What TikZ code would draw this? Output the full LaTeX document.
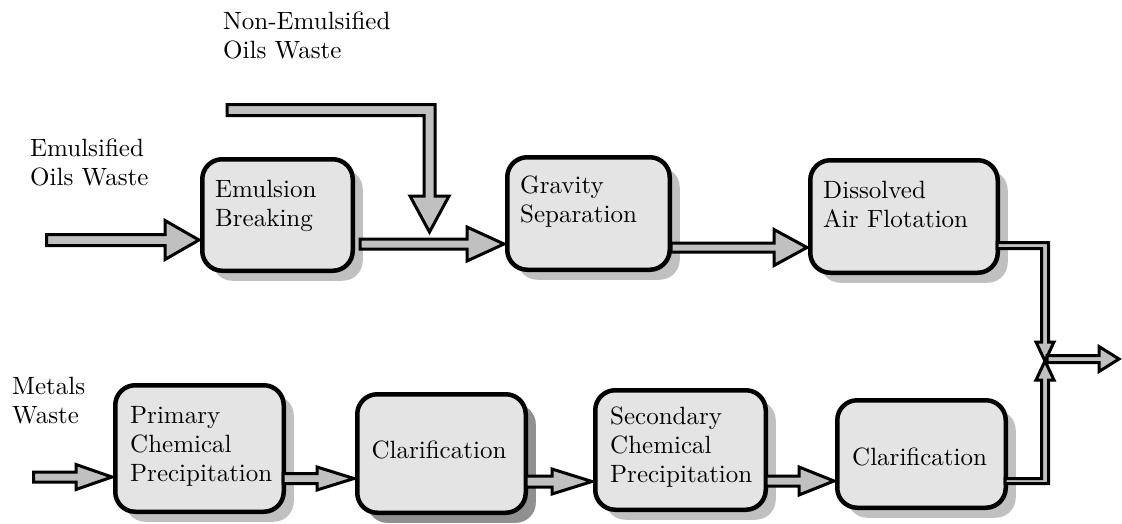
\documentclass[tikz,border=0pt]{standalone}
\usepackage{fontspec}
\setmainfont{lmroman10-regular.otf}
\usetikzlibrary{shadows,calc}
\definecolor{boxfill}{HTML}{E4E4E4}
\definecolor{shadowgray}{HTML}{C0C0C0}
\definecolor{darkshadow}{HTML}{909090}
\definecolor{arrowfill}{HTML}{C0C0C0}
\tikzset{
  procbox/.style={draw, line width=4.5pt, rounded corners=20pt, fill=boxfill,
    inner sep=0pt, drop shadow={shadow xshift=10pt, shadow yshift=-10pt, fill=shadowgray, opacity=1}},
  darkbox/.style={procbox, drop shadow={shadow xshift=10pt, shadow yshift=-10pt, fill=darkshadow, opacity=1}},
  txt/.style={font=\fontsize{25pt}{29pt}\selectfont, inner sep=0pt, align=left, anchor=base west},
  blockarrow/.style={draw, line width=3pt, fill=arrowfill, line join=miter},
  pipe/.style={draw, line width=3pt, fill=arrowfill, line join=miter}
}
% horizontal block arrow: #1 start, #2 tip (x only), #3 shaft half, #4 head half, #5 head length
\newcommand{\harr}[5]{%
  \draw[blockarrow] let \p1=(#1), \p2=(#2) in
    (\x1,\y1+#3pt) -- (\x2-#5pt,\y1+#3pt) -- (\x2-#5pt,\y1+#4pt) -- (\x2,\y1)
    -- (\x2-#5pt,\y1-#4pt) -- (\x2-#5pt,\y1-#3pt) -- (\x1,\y1-#3pt) -- cycle;}
\begin{document}
\begin{tikzpicture}[x=1pt,y=-1pt]
\useasboundingbox (0,0) rectangle (1122,523);

% process boxes
\node[procbox, minimum width=150.5pt, minimum height=111.5pt] (eb)  at (277.5,215) {};
\node[procbox, minimum width=162.5pt, minimum height=112.5pt] (gs)  at (588.5,213.5) {};
\node[procbox, minimum width=187.5pt, minimum height=112.5pt] (daf) at (904,216.5) {};
\node[procbox, minimum width=168.5pt, minimum height=126.5pt] (pcp) at (199.5,448.5) {};
\node[darkbox, minimum width=168.5pt, minimum height=118.5pt] (c1)  at (441.5,453.5) {};
\node[procbox, minimum width=170.5pt, minimum height=119.5pt] (scp) at (680.5,450) {};
\node[procbox, minimum width=168.5pt, minimum height=107.5pt] (c2)  at (921.5,454) {};

% box texts (anchor = baseline of the last line)
\node[txt] (eb-t)  at (215,226) {Emulsion\\Breaking};
\node[txt] (gs-t)  at (520,222) {Gravity\\Separation};
\node[txt] (daf-t) at (823,227) {Dissolved\\Air Flotation};
\node[txt] (pcp-t) at (130,481) {Primary\\Chemical\\Precipitation};
\node[txt, anchor=base] (c1-t) at (439,458) {Clarification};
\node[txt] (scp-t) at (610,482) {Secondary\\Chemical\\Precipitation};
\node[txt] (c2-t)  at (852,465) {Clarification};

% input labels
\node[txt] (lbl-em)  at (30,185) {Emulsified\\Oils Waste};
\node[txt] (lbl-ne)  at (223,58) {Non-Emulsified\\Oils Waste};
\node[txt] (lbl-met) at (12,423) {Metals\\Waste};

% free ends
\coordinate (em-in) at (46.5,240);
\coordinate (met-in) at (33.5,477);
\coordinate (ne-s) at (227,110);
\coordinate (ne-e) at (429.5,232);
\coordinate (j) at (1045,361);
\coordinate (out) at (1119,359);

% top row arrows
\harr{em-in}{[xshift=-1pt]eb.west}{5.5}{19.5}{34}
\harr{[xshift=5pt,yshift=-29pt]eb.east}{[xshift=-1pt]gs.west}{5}{17}{37}
\harr{[xshift=-1pt,yshift=-34pt]gs.east}{[xshift=-1pt]daf.west}{4.5}{18}{33}

% non-emulsified feed
\draw[blockarrow] let \p1=(ne-s), \p2=(ne-e) in
  (\x1,\y1+5.5pt) -- (\x2+5.5pt,\y1+5.5pt) -- (\x2+5.5pt,\y2+36pt) -- (\x2+19.5pt,\y2+36pt)
  -- (\x2,\y2) -- (\x2-19.5pt,\y2+36pt) -- (\x2-5.5pt,\y2+36pt) -- (\x2-5.5pt,\y1-5.5pt)
  -- (\x1,\y1-5.5pt) -- cycle;

% bottom row arrows
\harr{met-in}{[xshift=-1pt]pcp.west}{5}{12.5}{36}
\harr{[xshift=-3pt,yshift=-30pt]pcp.east}{[xshift=-1pt]c1.west}{5}{11.5}{37}
\harr{[xshift=-2pt,yshift=-28pt]c1.east}{[xshift=-1pt]scp.west}{5.5}{12.5}{40}
\harr{[xshift=-2pt,yshift=-31pt]scp.east}{[xshift=-1pt]c2.west}{5}{14}{35}

% DAF pipe down to junction
\draw[pipe] let \p1=([xshift=-3pt,yshift=-29pt]daf.east), \p2=(j) in
  (\x1,\y1+3pt) -- (\x2+3.5pt,\y1+3pt) -- (\x2+3.5pt,\y2+19pt) -- (\x2+9pt,\y2+19pt)
  -- (\x2,\y2) -- (\x2-9pt,\y2+19pt) -- (\x2-3.5pt,\y2+19pt) -- (\x2-3.5pt,\y1-3pt)
  -- (\x1,\y1-3pt) -- cycle;

% Clarification pipe up to junction
\draw[pipe] let \p1=([xshift=-3pt,yshift=-27pt]c2.east), \p2=(j) in
  (\x1,\y1-2.5pt) -- (\x2+3.5pt,\y1-2.5pt) -- (\x2+3.5pt,\y2-19pt) -- (\x2+9pt,\y2-19pt)
  -- (\x2,\y2) -- (\x2-9pt,\y2-19pt) -- (\x2-3.5pt,\y2-19pt) -- (\x2-3.5pt,\y1+2.5pt)
  -- (\x1,\y1+2.5pt) -- cycle;

% outlet
\draw[pipe] let \p1=([xshift=2pt,yshift=2pt]j), \p2=(out) in
  (\x1,\y1+3.5pt) -- (\x2-20pt,\y1+3.5pt) -- (\x2-20pt,\y1+12.5pt) -- (\x2,\y1)
  -- (\x2-20pt,\y1-12.5pt) -- (\x2-20pt,\y1-3.5pt) -- (\x1,\y1-3.5pt) -- cycle;
\end{tikzpicture}
\end{document}
